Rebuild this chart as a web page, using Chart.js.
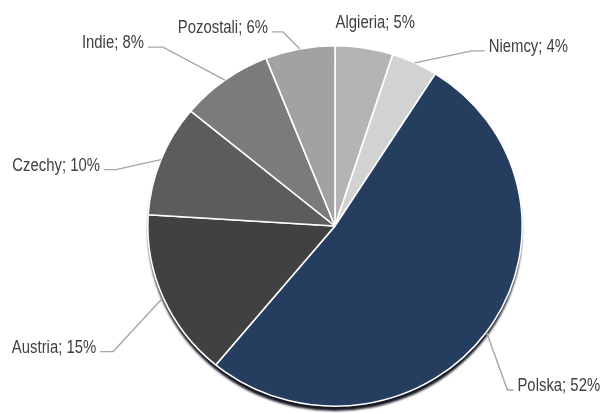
<!DOCTYPE html>
<html>
<head>
<meta charset="utf-8">
<script src="https://cdn.jsdelivr.net/npm/chart.js@4"></script>
<style>
  html, body { margin: 0; padding: 0; background: #fff; }
  canvas { display: block; }
</style>
</head>
<body>
<canvas id="pie" width="600" height="414"></canvas>
<script>
// data
const countries = ['Algieria', 'Niemcy', 'Polska', 'Austria', 'Czechy', 'Indie', 'Pozostali'];
const shares    = [5, 4, 52, 15, 10, 8, 6];

// look
const sliceColors = ['#b4b4b4', '#d2d2d2', '#253d5e', '#414141', '#5c5c5c', '#7b7b7b', '#a2a2a2'];
// elbow of each leader line relative to the slice's edge midpoint, plus length of the flat run
const leaderElbows = [
  { dx: 11,  dy: -25, run: 0,  line: false },
  { dx: 57,  dy: -12, run: 13, line: true },
  { dx: 21,  dy: 58,  run: 6,  line: true },
  { dx: -50, dy: 54,  run: 13, line: true },
  { dx: -45, dy: 10,  run: 12, line: true },
  { dx: -62, dy: -33, run: 15, line: true },
  { dx: -17, dy: -17, run: 11, line: true }
];
const squashY = 0.963;   // pie is drawn slightly flattened, like the Excel original
const FONT = '17.5px "Liberation Sans", Arial, sans-serif';
const NARROW = 0.85;     // fake Arial Narrow by squeezing the glyphs

function narrowText(ctx, text, x, y, align) {
  ctx.save();
  ctx.translate(x, y);
  ctx.scale(NARROW, 1);
  ctx.textAlign = align;
  ctx.fillText(text, 0, 0);
  ctx.restore();
}

const squashPlugin = {
  id: 'squash',
  beforeDatasetsDraw(chart) {
    const arc = chart.getDatasetMeta(0).data[0];
    const { ctx } = chart;
    ctx.save();
    ctx.translate(arc.x, arc.y);
    ctx.scale(1, squashY);
    ctx.translate(-arc.x, -arc.y);
    // drop shadow under the pie
    ctx.save();
    ctx.filter = 'blur(1.2px)';
    ctx.fillStyle = 'rgba(8,12,22,0.95)';
    ctx.beginPath();
    ctx.arc(arc.x, arc.y + 5, arc.outerRadius, 0, Math.PI * 2);
    ctx.fill();
    ctx.restore();
  },
  afterDatasetsDraw(chart) {
    chart.ctx.restore();
  }
};

const labelPlugin = {
  id: 'leaderLabels',
  afterDraw(chart) {
    const { ctx } = chart;
    const arcs = chart.getDatasetMeta(0).data;
    ctx.save();
    ctx.font = FONT;
    ctx.fillStyle = '#404040';
    ctx.strokeStyle = '#a6a6a6';
    ctx.lineWidth = 1.4;
    arcs.forEach((arc, i) => {
      const mid = (arc.startAngle + arc.endAngle) / 2;
      const ex = arc.x + arc.outerRadius * Math.cos(mid);
      const ey = arc.y + arc.outerRadius * Math.sin(mid) * squashY;
      const lay = leaderElbows[i];
      const text = countries[i] + '; ' + shares[i] + '%';
      if (!lay.line) {
        ctx.textBaseline = 'middle';
        narrowText(ctx, text, ex + lay.dx, ey + lay.dy, 'center');
        return;
      }
      const bx = ex + lay.dx, by = ey + lay.dy;
      const dir = lay.dx >= 0 ? 1 : -1;
      const tx = bx + dir * lay.run;
      ctx.beginPath();
      ctx.moveTo(ex, ey);
      ctx.lineTo(bx, by);
      ctx.lineTo(tx, by);
      ctx.stroke();
      ctx.textBaseline = 'alphabetic';
      narrowText(ctx, text, tx + dir * 4, by + 1, dir > 0 ? 'left' : 'right');
    });
    ctx.restore();
  }
};

new Chart(document.getElementById('pie'), {
  type: 'pie',
  data: {
    labels: countries,
    datasets: [{
      data: shares,
      backgroundColor: sliceColors,
      borderColor: '#ffffff',
      borderWidth: 1.6
    }]
  },
  options: {
    responsive: false,
    animation: false,
    layout: { padding: { left: 147, right: 77, top: 38, bottom: 0 } },
    plugins: {
      legend: { display: false },
      tooltip: { enabled: false }
    }
  },
  plugins: [squashPlugin, labelPlugin]
});
</script>
</body>
</html>
